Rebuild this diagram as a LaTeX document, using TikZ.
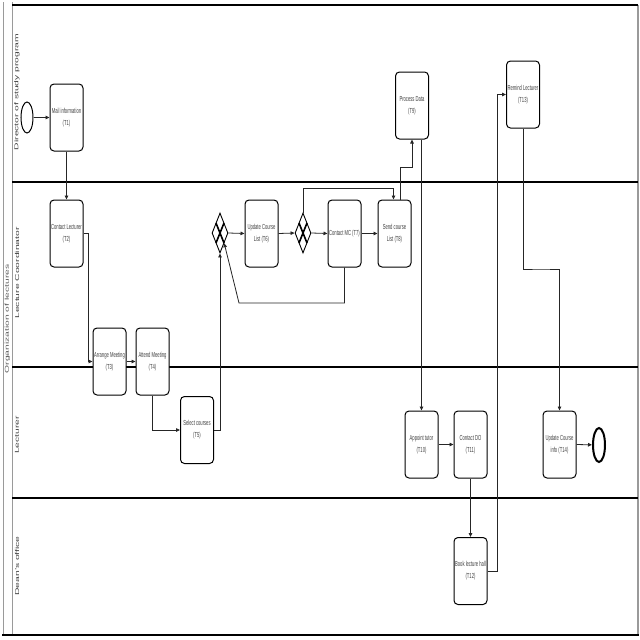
\documentclass[tikz,border=0pt]{standalone}
\usepackage{fontspec}
\setmainfont{Liberation Sans}
\usetikzlibrary{shapes.geometric,arrows.meta,calc}
\newcommand{\sqz}[1]{\scalebox{0.57}[1]{#1}}
\newcommand{\lbl}[1]{\scalebox{1}[0.55]{#1}}
\definecolor{poolgray}{HTML}{9A9A9A}
\definecolor{txtgray}{HTML}{404040}
\begin{document}
\begin{tikzpicture}[x=1pt,y=-1pt,
  task/.style={draw=black, line width=1pt, rounded corners=4pt, fill=white, minimum width=33pt, minimum height=67pt, inner sep=0pt, align=center, font=\fontsize{7.3}{12}\selectfont, text=txtgray},
  gate/.style={draw=black, line width=0.9pt, diamond, minimum width=16pt, minimum height=40pt, inner sep=0pt, fill=white},
  gx/.style={draw=black, line width=1.6pt},
  flow/.style={draw=black!85, line width=0.8pt, -{Triangle[length=4pt,width=3.5pt]}},
  sep/.style={draw=black, line width=1.3pt},
  lanelbl/.style={rotate=90, font=\fontsize{10.3}{12}\selectfont, text=txtgray, inner sep=0pt}
]
\useasboundingbox (0,0) rectangle (640,640);
\fill[white] (0,0) rectangle (640,640);
% pool and lanes
\draw[poolgray, line width=0.9pt] (3,2) -- (3,635);
\draw[poolgray, line width=0.9pt] (12,2) -- (12,635);
\draw[poolgray, line width=1.2pt] (638,5) -- (638,635);
\draw[sep, line width=1.6pt] (12,5) -- (638,5);
\draw[sep, line width=1.6pt] (2,635) -- (639,635);
\draw[sep] (12,182) -- (638,182);
\draw[sep] (12,367) -- (638,367);
\draw[sep] (12,498) -- (638,498);
\node[lanelbl, text=poolgray!60!black] (pool) at (7.5,319) {\lbl{Organization of lectures}};
\node[lanelbl] (lane1) at (17,92) {\lbl{Director of study program}};
\node[lanelbl] (lane2) at (17,273) {\lbl{Lecture Coordinator}};
\node[lanelbl] (lane3) at (17,435) {\lbl{Lecturer}};
\node[lanelbl] (lane4) at (17,566) {\lbl{Dean's office}};
% events
\node[draw, ellipse, minimum width=12pt, minimum height=31pt, inner sep=0pt, line width=1pt, fill=white] (start) at (27,117.5) {};
\node[draw, ellipse, minimum width=12pt, minimum height=34pt, inner sep=0pt, line width=2pt, fill=white] (end) at (599,445) {};
% tasks
\node[task] (T1) at (66.5,117.5) {\sqz{Mail information}\\\sqz{(T1)}};
\node[task] (T2) at (66.5,233.5) {\sqz{Contact Lecturer}\\\sqz{(T2)}};
\node[task] (T3) at (109.5,361.5) {\sqz{Arrange Meeting}\\\sqz{(T3)}};
\node[task] (T4) at (152.5,361.5) {\sqz{Attend Meeting}\\\sqz{(T4)}};
\node[task] (T5) at (197,430) {\sqz{Select courses}\\\sqz{(T5)}};
\node[task] (T6) at (261.5,233.5) {\sqz{Update Course}\\\sqz{List (T6)}};
\node[task] (T7) at (344.5,233.5) {\sqz{Contact MC (T7)}};
\node[task] (T8) at (394.5,233.5) {\sqz{Send course}\\\sqz{List (T8)}};
\node[task] (T9) at (412,105.5) {\sqz{Process Data}\\\sqz{(T9)}};
\node[task] (T10) at (421.5,444.5) {\sqz{Appoint tutor}\\\sqz{(T10)}};
\node[task] (T11) at (470.5,444.5) {\sqz{Contact DO}\\\sqz{(T11)}};
\node[task] (T12) at (470.5,571) {\sqz{Book lecture hall}\\\sqz{(T12)}};
\node[task] (T13) at (523,94.5) {\sqz{Remind Lecturer}\\\sqz{(T13)}};
\node[task] (T14) at (559.5,444.5) {\sqz{Update Course}\\\sqz{info (T14)}};
% gateways
\node[gate] (G1) at (220,233) {};
\node[gate] (G2) at (303,233) {};
\foreach \g in {G1,G2}{
  \draw[gx] ($(\g.center)+(-4,-10)$) -- ($(\g.center)+(4,10)$);
  \draw[gx] ($(\g.center)+(-4,10)$) -- ($(\g.center)+(4,-10)$);
}
% helper coordinates
\coordinate (g1se) at ($(G1.east)!0.5!(G1.south)$);
\coordinate (b7) at (239,303);
\coordinate (m14) at (541,269);
% connectors
\draw[flow] (start) -- (T1);
\draw[flow] (T1.south) -- (T2.north);
\draw[flow] (T2.east) -- ++(5,0) |- (T3.west);
\draw[flow] (T3.east) -- (T4.west);
\draw[flow] (T4.south) |- (T5.west);
\draw[flow] (T5.east) -| (G1.south);
\draw[flow] (G1.east) -- (T6.west);
\draw[flow] (T6.east) -- (G2.west);
\draw[flow] (G2.east) -- (T7.west);
\draw[flow] (T7.east) -- (T8.west);
\draw[flow] (G2.north) -- ++(0,-24) -| ($(T8.north)+(-1,0)$);
\draw[flow] (T7.south) |- (b7) -- (g1se);
\draw[flow] ($(T8.north)+(5.5,0)$) -- ++(0,-32) -| (T9.south);
\draw[flow] ($(T9.south)+(9.5,0)$) -- (T10.north);
\draw[flow] (T10.east) -- (T11.west);
\draw[flow] (T11.south) -- (T12.north);
\draw[flow] (T12.east) -- ++(10,0) |- (T13.west);
\draw[flow] (T13.south) |- (m14) -| (T14.north);
\draw[flow] (T14.east) -- (end);
\end{tikzpicture}
\end{document}
